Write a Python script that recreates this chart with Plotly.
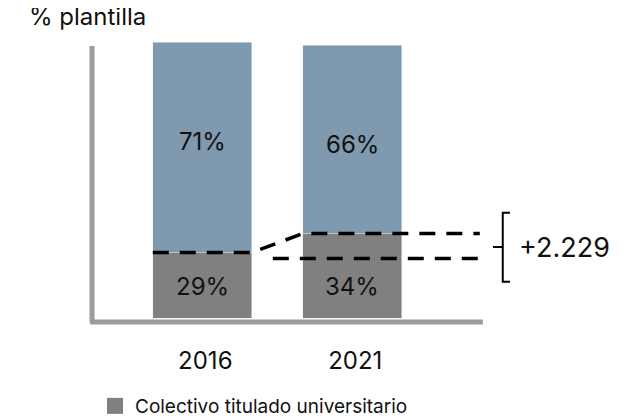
import plotly.graph_objects as go

# ---- data ----
years = ["2016", "2021"]
univ_share = [23.7, 30.6]          # bar segment heights (as drawn)
rest_share = [76.3, 68.3]
univ_labels = ["29%", "34%"]
rest_labels = ["71%", "66%"]
ref_level = 21.6                   # lower dashed reference level
increase_label = "+2.229"
legend_name = "Colectivo titulado universitario"
y_title = "% plantilla"

# ---- styles ----
C_UNIV = "#808080"
C_REST = "#7f9aae"
C_AXIS = "#9c9c9c"
FONT = "Inter"
BW = 0.66
pos = list(range(len(years)))
OFF = 8  # page body margin

fig = go.Figure()
fig.add_trace(go.Bar(x=pos, y=univ_share, name=legend_name, marker_color=C_UNIV,
                     width=BW, showlegend=False))
fig.add_trace(go.Bar(x=pos, y=rest_share, name="Resto", marker_color=C_REST,
                     width=BW, showlegend=False))
# legend entry (larger square symbol)
fig.add_trace(go.Scatter(x=[None], y=[None], mode="markers", name=legend_name,
                         marker=dict(symbol="square", size=20, color=C_UNIV), showlegend=True))

# dashed connector lines
h = BW / 2
fig.add_trace(go.Scatter(x=[pos[0] - h, pos[0] + h, pos[1] - h, 1.85],
                         y=[univ_share[0], univ_share[0], univ_share[1], univ_share[1]],
                         mode="lines", line=dict(color="black", width=3.5, dash="16px,11px"),
                         showlegend=False, hoverinfo="skip"))
fig.add_trace(go.Scatter(x=[0.47, 1.885], y=[ref_level, ref_level],
                         mode="lines", line=dict(color="black", width=3.5, dash="16px,11px"),
                         showlegend=False, hoverinfo="skip"))

# segment labels
lab_y_top = [63.9, 62.7]
lab_y_bot = [11.3, 11.3]
for i in pos:
    fig.add_annotation(x=i, y=lab_y_top[i], text=rest_labels[i], showarrow=False,
                       font=dict(family=FONT, size=24, color="#111"))
    fig.add_annotation(x=i, y=lab_y_bot[i], text=univ_labels[i], showarrow=False,
                       font=dict(family=FONT, size=24, color="#111"))

# axes lines (drawn as shapes, short like the original)
fig.add_shape(type="line", x0=-0.735, x1=-0.735, y0=-1.63, y1=98.55,
              line=dict(color=C_AXIS, width=5))
fig.add_shape(type="line", x0=-0.748, x1=1.871, y0=-1.45, y1=-1.45,
              line=dict(color=C_AXIS, width=5))

# bracket
bx, btop, bbot, bmid = 2.003, 38.15, 13.15, 25.7
fig.add_shape(type="path",
              path=f"M 2.051,{btop} L {bx},{btop} L {bx},{bbot} L 2.051,{bbot} M {bx},{bmid} L 1.938,{bmid}",
              line=dict(color="black", width=2))
fig.add_annotation(x=2.095, y=bmid, text=increase_label, showarrow=False, xanchor="left",
                   font=dict(family=FONT, size=27, color="#111"))

fig.update_layout(
    width=639, height=418,
    margin=dict(l=30 - OFF, r=639 - 630 + OFF, t=40 - OFF, b=418 - 332 + OFF),
    barmode="stack",
    plot_bgcolor="white", paper_bgcolor="white",
    font=dict(family=FONT, size=22, color="#111"),
    title=dict(text=y_title, xref="container", yref="container", x=(29 - OFF) / 639,
               y=1.0, xanchor="left", yanchor="top", pad=dict(t=0, b=0, l=0, r=0),
               font=dict(family=FONT, size=24, color="#111")),
    xaxis=dict(range=[(30 - 202.3) / 150, (630 - 202.3) / 150], showgrid=False, zeroline=False,
               showline=False, ticks="outside", ticklen=7, tickcolor="rgba(0,0,0,0)",
               tickvals=pos, ticktext=years,
               tickfont=dict(size=24, family=FONT, color="#111"), ticklabelshift=3),
    yaxis=dict(range=[(318 - 332) / 2.76, (318 - 40) / 2.76], showgrid=False, zeroline=False,
               showline=False, showticklabels=False),
    showlegend=True,
    legend=dict(orientation="h", xref="container", yref="container", x=87 / 639,
                y=1 - 379 / 418, xanchor="left", yanchor="top", itemsizing="trace",
                font=dict(family=FONT, size=19, color="#111")),
)
fig.write_html("out.html")
